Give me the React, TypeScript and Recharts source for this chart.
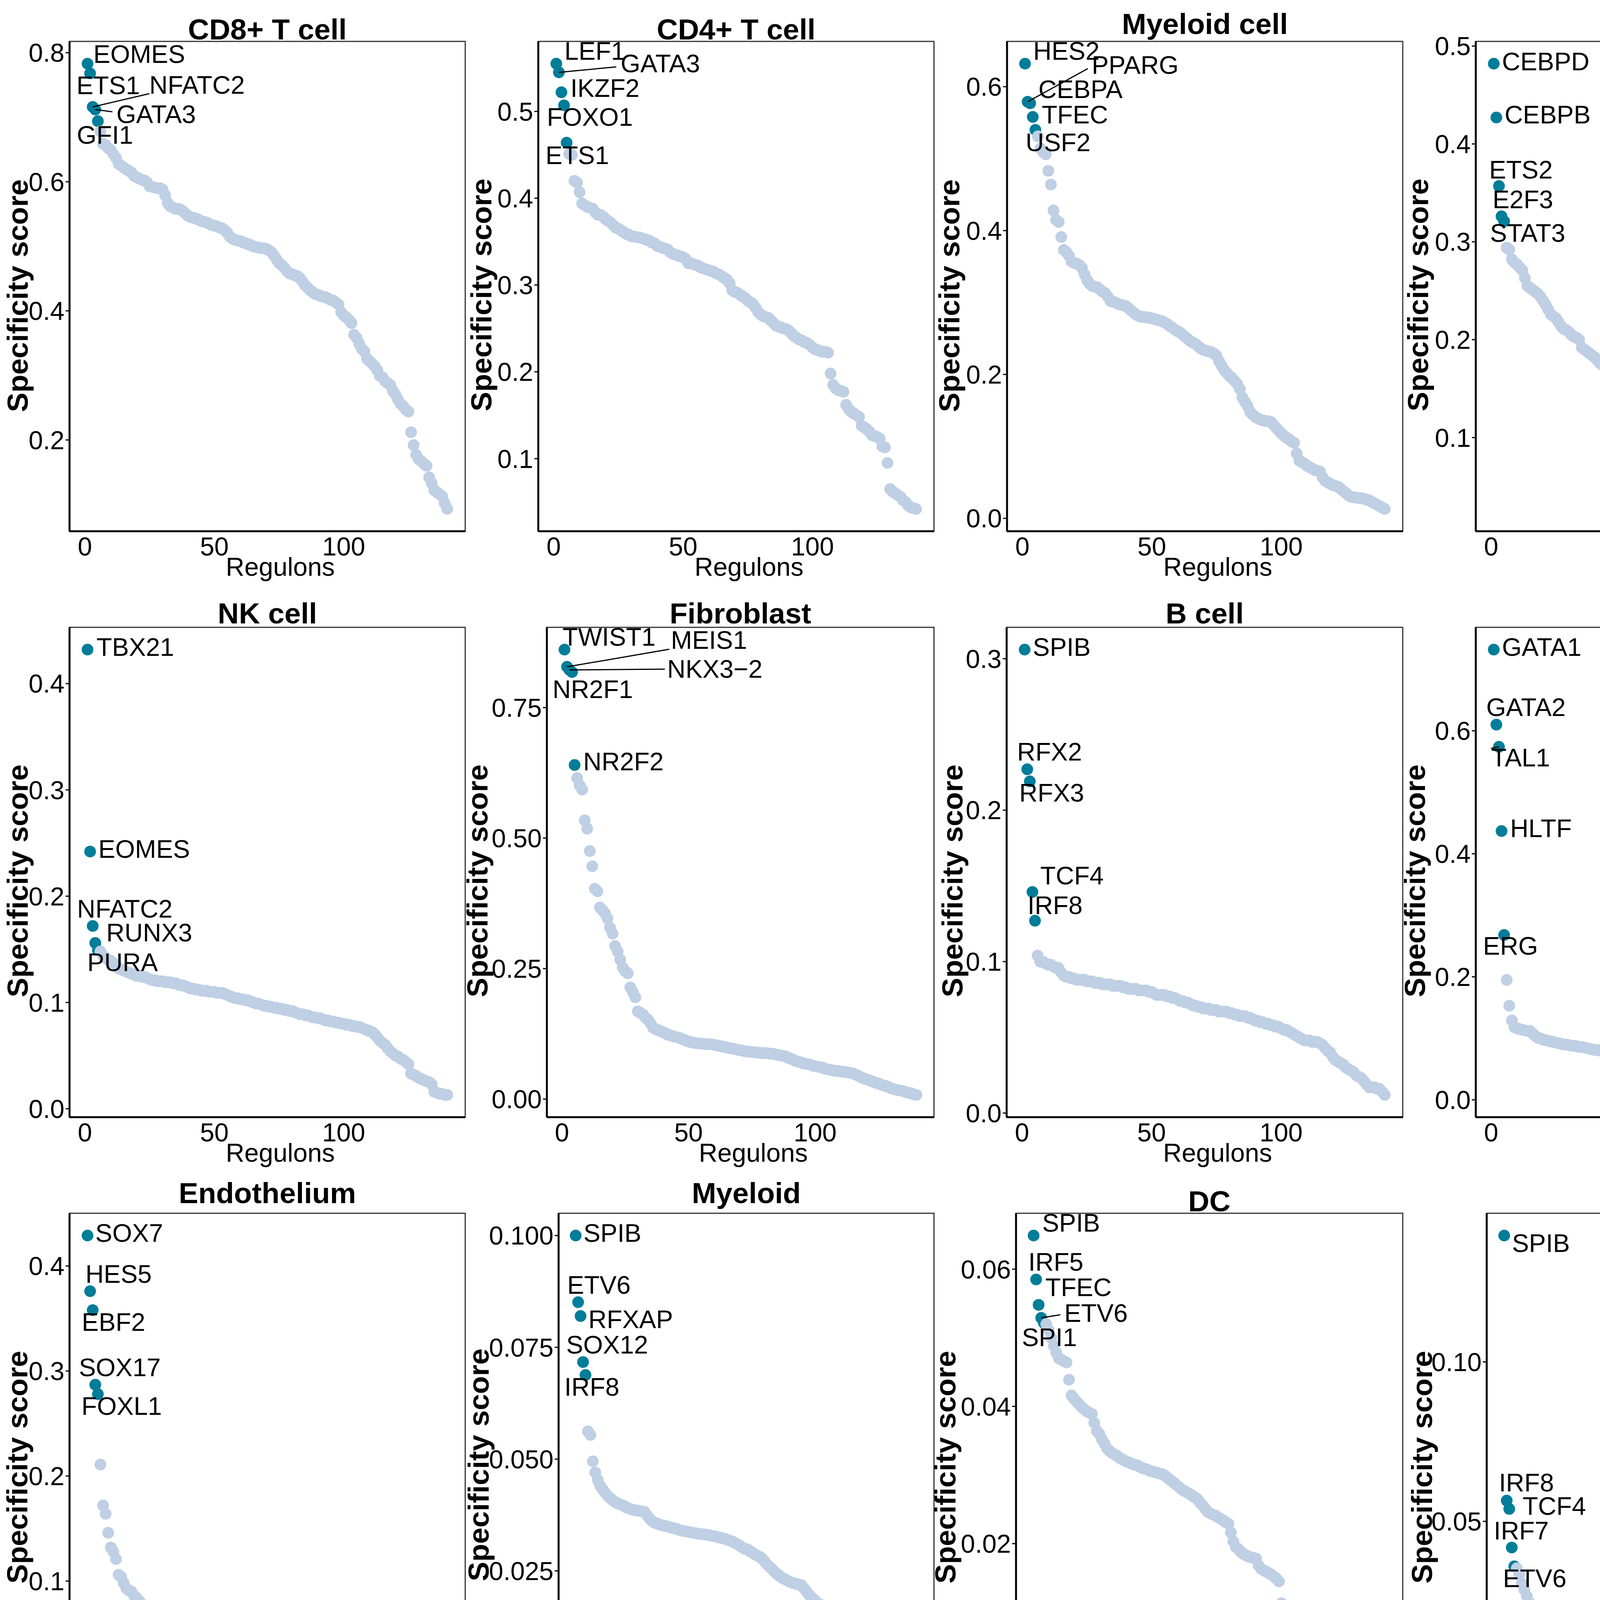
import { ReferenceArea, Scatter, ScatterChart, XAxis, YAxis } from 'recharts'

const TEAL = '#007d99'
const MIST = '#bfcfe4'
const FONT = '"Liberation Sans", Arial, Helvetica, sans-serif'

// specificity scores, regulons ranked 1..140 in each cell type
const cd8Scores = [
	0.783, 0.768, 0.716, 0.712, 0.694, 0.678, 0.659, 0.657, 0.652, 0.649,
	0.643, 0.637, 0.628, 0.625, 0.622, 0.619, 0.617, 0.614, 0.609, 0.607,
	0.605, 0.603, 0.602, 0.599, 0.593, 0.592, 0.591, 0.59, 0.59, 0.588,
	0.579, 0.567, 0.562, 0.56, 0.558, 0.558, 0.557, 0.554, 0.55, 0.547,
	0.545, 0.544, 0.543, 0.541, 0.539, 0.538, 0.537, 0.535, 0.533, 0.532,
	0.531, 0.529, 0.528, 0.525, 0.521, 0.515, 0.512, 0.51, 0.509, 0.508,
	0.506, 0.505, 0.503, 0.502, 0.5, 0.499, 0.498, 0.497, 0.497, 0.496,
	0.494, 0.491, 0.486, 0.48, 0.474, 0.471, 0.467, 0.462, 0.458, 0.457,
	0.455, 0.454, 0.451, 0.446, 0.44, 0.436, 0.432, 0.429, 0.426, 0.425,
	0.423, 0.422, 0.421, 0.419, 0.417, 0.416, 0.413, 0.41, 0.398, 0.393,
	0.39, 0.386, 0.381, 0.363, 0.358, 0.349, 0.341, 0.337, 0.326, 0.322,
	0.318, 0.314, 0.308, 0.299, 0.297, 0.291, 0.288, 0.285, 0.276, 0.27,
	0.262, 0.256, 0.252, 0.247, 0.244, 0.212, 0.192, 0.177, 0.17, 0.167,
	0.163, 0.16, 0.142, 0.133, 0.122, 0.119, 0.116, 0.113, 0.102, 0.093,
]
const cd4Scores = [
	0.555, 0.545, 0.522, 0.507, 0.464, 0.451, 0.45, 0.42, 0.418, 0.407,
	0.394, 0.392, 0.39, 0.389, 0.388, 0.384, 0.381, 0.381, 0.379, 0.376,
	0.374, 0.372, 0.369, 0.366, 0.365, 0.363, 0.361, 0.359, 0.358, 0.356,
	0.356, 0.355, 0.355, 0.354, 0.353, 0.352, 0.351, 0.349, 0.348, 0.345,
	0.344, 0.343, 0.342, 0.341, 0.338, 0.336, 0.335, 0.334, 0.333, 0.332,
	0.33, 0.325, 0.325, 0.324, 0.323, 0.322, 0.32, 0.319, 0.318, 0.317,
	0.316, 0.315, 0.313, 0.312, 0.31, 0.308, 0.306, 0.302, 0.294, 0.292,
	0.291, 0.289, 0.287, 0.285, 0.282, 0.28, 0.278, 0.274, 0.269, 0.266,
	0.264, 0.263, 0.262, 0.259, 0.256, 0.253, 0.252, 0.251, 0.25, 0.249,
	0.247, 0.244, 0.241, 0.239, 0.237, 0.236, 0.234, 0.233, 0.231, 0.228,
	0.226, 0.225, 0.224, 0.223, 0.223, 0.222, 0.198, 0.185, 0.181, 0.179,
	0.178, 0.177, 0.162, 0.157, 0.154, 0.152, 0.15, 0.148, 0.138, 0.136,
	0.134, 0.131, 0.127, 0.126, 0.125, 0.123, 0.114, 0.113, 0.095, 0.065,
	0.062, 0.06, 0.058, 0.056, 0.052, 0.05, 0.046, 0.044, 0.043, 0.042,
]
const myeloidCellScores = [
	0.632, 0.579, 0.577, 0.558, 0.54, 0.531, 0.514, 0.509, 0.506, 0.483,
	0.464, 0.428, 0.415, 0.412, 0.391, 0.373, 0.37, 0.365, 0.357, 0.355,
	0.354, 0.352, 0.348, 0.339, 0.331, 0.326, 0.323, 0.322, 0.321, 0.318,
	0.315, 0.313, 0.308, 0.302, 0.301, 0.3, 0.298, 0.297, 0.296, 0.295,
	0.292, 0.289, 0.286, 0.283, 0.281, 0.28, 0.28, 0.279, 0.279, 0.278,
	0.277, 0.276, 0.275, 0.274, 0.272, 0.27, 0.267, 0.265, 0.262, 0.26,
	0.258, 0.255, 0.252, 0.249, 0.246, 0.244, 0.242, 0.239, 0.236, 0.234,
	0.233, 0.232, 0.231, 0.229, 0.226, 0.218, 0.212, 0.206, 0.202, 0.198,
	0.195, 0.191, 0.187, 0.18, 0.168, 0.162, 0.156, 0.148, 0.144, 0.141,
	0.139, 0.137, 0.136, 0.135, 0.135, 0.134, 0.13, 0.126, 0.122, 0.118,
	0.115, 0.112, 0.11, 0.107, 0.105, 0.09, 0.08, 0.078, 0.076, 0.073,
	0.071, 0.069, 0.067, 0.066, 0.065, 0.057, 0.052, 0.05, 0.048, 0.046,
	0.045, 0.044, 0.041, 0.038, 0.035, 0.032, 0.03, 0.029, 0.029, 0.028,
	0.028, 0.027, 0.026, 0.025, 0.023, 0.021, 0.019, 0.017, 0.015, 0.013,
]
const neutrophilScores = [
	0.482, 0.427, 0.357, 0.326, 0.321, 0.294, 0.292, 0.282, 0.279, 0.277,
	0.274, 0.271, 0.263, 0.255, 0.253, 0.251, 0.249, 0.247, 0.244, 0.24,
	0.236, 0.231, 0.226, 0.224, 0.222, 0.218, 0.214, 0.211, 0.21, 0.208,
	0.205, 0.203, 0.202, 0.2, 0.192, 0.19, 0.188, 0.186, 0.184, 0.182,
	0.179, 0.176, 0.174, 0.173, 0.172, 0.171, 0.17, 0.169, 0.167, 0.166,
	0.165, 0.164, 0.163, 0.162, 0.161, 0.16, 0.159, 0.158, 0.156, 0.155,
	0.154, 0.153, 0.152, 0.152, 0.151, 0.151, 0.15, 0.15, 0.149, 0.149,
	0.148, 0.148, 0.147, 0.147, 0.146, 0.146, 0.146, 0.145, 0.14, 0.139,
	0.137, 0.137, 0.136, 0.136, 0.135, 0.135, 0.134, 0.134, 0.134, 0.133,
	0.132, 0.13, 0.128, 0.126, 0.125, 0.123, 0.122, 0.12, 0.119, 0.117,
	0.116, 0.114, 0.113, 0.112, 0.111, 0.11, 0.109, 0.108, 0.106, 0.104,
	0.102, 0.1, 0.099, 0.097, 0.096, 0.095, 0.094, 0.093, 0.092, 0.091,
	0.09, 0.089, 0.088, 0.087, 0.087, 0.086, 0.083, 0.081, 0.078, 0.076,
	0.074, 0.072, 0.067, 0.062, 0.057, 0.052, 0.048, 0.043, 0.037, 0.027,
]
const plasmaScores = [
	0.6, 0.369, 0.354, 0.329, 0.316, 0.31, 0.303, 0.296, 0.291, 0.289,
	0.285, 0.282, 0.279, 0.277, 0.259, 0.244, 0.227, 0.225, 0.22, 0.213,
	0.205, 0.2, 0.198, 0.196, 0.193, 0.189, 0.185, 0.181, 0.178, 0.176,
	0.174, 0.172, 0.171, 0.17, 0.169, 0.169, 0.168, 0.167, 0.167, 0.166,
	0.16, 0.159, 0.157, 0.155, 0.154, 0.153, 0.152, 0.15, 0.149, 0.148,
	0.147, 0.146, 0.145, 0.143, 0.142, 0.14, 0.138, 0.137, 0.135, 0.134,
	0.133, 0.133, 0.132, 0.131, 0.13, 0.128, 0.126, 0.125, 0.123, 0.122,
	0.121, 0.12, 0.119, 0.118, 0.117, 0.116, 0.115, 0.114, 0.113, 0.112,
	0.111, 0.11, 0.109, 0.108, 0.107, 0.106, 0.106, 0.105, 0.104, 0.103,
	0.102, 0.101, 0.1, 0.099, 0.098, 0.098, 0.097, 0.097, 0.096, 0.095,
	0.095, 0.094, 0.094, 0.093, 0.093, 0.092, 0.091, 0.09, 0.089, 0.088,
	0.086, 0.084, 0.081, 0.079, 0.076, 0.073, 0.071, 0.069, 0.066, 0.064,
	0.06, 0.056, 0.052, 0.048, 0.044, 0.042, 0.04, 0.039, 0.038, 0.037,
	0.035, 0.034, 0.033, 0.032, 0.031, 0.029, 0.026, 0.024, 0.022, 0.02,
]
const nkScores = [
	0.432, 0.242, 0.172, 0.156, 0.149, 0.148, 0.144, 0.142, 0.14, 0.139,
	0.137, 0.135, 0.132, 0.131, 0.13, 0.129, 0.128, 0.127, 0.126, 0.125,
	0.125, 0.124, 0.124, 0.123, 0.122, 0.121, 0.121, 0.12, 0.12, 0.12,
	0.119, 0.119, 0.119, 0.118, 0.118, 0.117, 0.116, 0.116, 0.115, 0.114,
	0.113, 0.113, 0.112, 0.112, 0.111, 0.111, 0.111, 0.11, 0.11, 0.11,
	0.109, 0.109, 0.109, 0.108, 0.107, 0.106, 0.105, 0.104, 0.104, 0.103,
	0.103, 0.102, 0.102, 0.101, 0.1, 0.099, 0.099, 0.098, 0.097, 0.097,
	0.096, 0.096, 0.095, 0.095, 0.094, 0.094, 0.093, 0.093, 0.092, 0.092,
	0.091, 0.09, 0.089, 0.089, 0.088, 0.088, 0.087, 0.086, 0.086, 0.085,
	0.085, 0.084, 0.083, 0.083, 0.082, 0.082, 0.081, 0.081, 0.08, 0.08,
	0.079, 0.079, 0.078, 0.078, 0.077, 0.077, 0.076, 0.075, 0.074, 0.073,
	0.072, 0.07, 0.067, 0.064, 0.062, 0.06, 0.057, 0.054, 0.052, 0.05,
	0.049, 0.047, 0.046, 0.044, 0.042, 0.033, 0.032, 0.031, 0.029, 0.028,
	0.027, 0.026, 0.025, 0.023, 0.016, 0.015, 0.014, 0.014, 0.013, 0.013,
]
const fibroScores = [
	0.861, 0.828, 0.822, 0.818, 0.64, 0.615, 0.601, 0.593, 0.534, 0.518,
	0.475, 0.446, 0.403, 0.398, 0.367, 0.362, 0.356, 0.346, 0.328, 0.317,
	0.293, 0.283, 0.267, 0.252, 0.245, 0.241, 0.214, 0.205, 0.195, 0.168,
	0.165, 0.162, 0.156, 0.152, 0.145, 0.137, 0.134, 0.132, 0.13, 0.128,
	0.126, 0.123, 0.122, 0.12, 0.119, 0.118, 0.116, 0.114, 0.112, 0.11,
	0.109, 0.108, 0.107, 0.107, 0.106, 0.106, 0.105, 0.105, 0.105, 0.104,
	0.103, 0.102, 0.101, 0.1, 0.099, 0.098, 0.097, 0.096, 0.095, 0.094,
	0.093, 0.092, 0.091, 0.091, 0.09, 0.09, 0.089, 0.089, 0.088, 0.088,
	0.088, 0.087, 0.087, 0.086, 0.085, 0.084, 0.083, 0.082, 0.08, 0.078,
	0.076, 0.074, 0.072, 0.071, 0.069, 0.068, 0.067, 0.066, 0.064, 0.063,
	0.062, 0.061, 0.06, 0.058, 0.057, 0.056, 0.055, 0.054, 0.054, 0.053,
	0.052, 0.052, 0.051, 0.05, 0.049, 0.047, 0.045, 0.042, 0.04, 0.038,
	0.037, 0.035, 0.033, 0.031, 0.03, 0.028, 0.026, 0.025, 0.023, 0.021,
	0.019, 0.018, 0.017, 0.016, 0.015, 0.013, 0.012, 0.011, 0.009, 0.008,
]
const bScores = [
	0.306, 0.227, 0.219, 0.146, 0.127, 0.104, 0.1, 0.1, 0.099, 0.098,
	0.098, 0.097, 0.096, 0.096, 0.093, 0.091, 0.09, 0.09, 0.089, 0.089,
	0.088, 0.088, 0.088, 0.088, 0.087, 0.087, 0.087, 0.086, 0.086, 0.086,
	0.085, 0.085, 0.085, 0.085, 0.084, 0.084, 0.084, 0.084, 0.083, 0.083,
	0.082, 0.082, 0.082, 0.082, 0.081, 0.081, 0.081, 0.081, 0.08, 0.08,
	0.079, 0.078, 0.078, 0.078, 0.078, 0.077, 0.077, 0.076, 0.076, 0.075,
	0.074, 0.074, 0.073, 0.073, 0.072, 0.071, 0.071, 0.07, 0.07, 0.069,
	0.069, 0.069, 0.068, 0.068, 0.068, 0.067, 0.067, 0.067, 0.067, 0.066,
	0.066, 0.065, 0.065, 0.064, 0.064, 0.064, 0.063, 0.063, 0.062, 0.061,
	0.061, 0.06, 0.06, 0.059, 0.059, 0.058, 0.058, 0.057, 0.057, 0.056,
	0.055, 0.055, 0.054, 0.053, 0.052, 0.051, 0.05, 0.049, 0.048, 0.048,
	0.048, 0.047, 0.047, 0.047, 0.046, 0.045, 0.043, 0.041, 0.04, 0.037,
	0.035, 0.034, 0.033, 0.032, 0.03, 0.029, 0.028, 0.027, 0.025, 0.024,
	0.023, 0.021, 0.019, 0.017, 0.017, 0.017, 0.016, 0.016, 0.014, 0.012,
]
const mastScores = [
	0.732, 0.61, 0.574, 0.437, 0.268, 0.195, 0.153, 0.129, 0.118, 0.116,
	0.115, 0.114, 0.113, 0.112, 0.112, 0.108, 0.104, 0.101, 0.1, 0.098,
	0.097, 0.096, 0.095, 0.094, 0.093, 0.092, 0.091, 0.09, 0.09, 0.089,
	0.088, 0.088, 0.087, 0.086, 0.086, 0.085, 0.084, 0.083, 0.082, 0.081,
	0.081, 0.08, 0.08, 0.079, 0.079, 0.078, 0.078, 0.077, 0.077, 0.076,
	0.076, 0.076, 0.075, 0.075, 0.075, 0.075, 0.074, 0.074, 0.074, 0.074,
	0.073, 0.073, 0.072, 0.072, 0.071, 0.071, 0.07, 0.07, 0.069, 0.069,
	0.069, 0.068, 0.068, 0.067, 0.067, 0.066, 0.065, 0.065, 0.064, 0.063,
	0.062, 0.062, 0.061, 0.061, 0.06, 0.059, 0.058, 0.057, 0.056, 0.055,
	0.054, 0.053, 0.052, 0.051, 0.05, 0.049, 0.048, 0.047, 0.046, 0.045,
	0.044, 0.043, 0.042, 0.041, 0.04, 0.039, 0.037, 0.036, 0.036, 0.035,
	0.034, 0.034, 0.033, 0.033, 0.032, 0.032, 0.031, 0.031, 0.03, 0.029,
	0.028, 0.027, 0.026, 0.025, 0.024, 0.023, 0.022, 0.021, 0.02, 0.018,
	0.016, 0.015, 0.014, 0.014, 0.013, 0.012, 0.011, 0.01, 0.009, 0.008,
]
const epiScores = [
	0.677, 0.624, 0.621, 0.58, 0.577, 0.53, 0.525, 0.508, 0.456, 0.446,
	0.418, 0.401, 0.385, 0.375, 0.362, 0.334, 0.309, 0.304, 0.301, 0.249,
	0.239, 0.237, 0.234, 0.232, 0.207, 0.206, 0.194, 0.186, 0.177, 0.165,
	0.157, 0.151, 0.144, 0.14, 0.135, 0.13, 0.125, 0.12, 0.116, 0.112,
	0.108, 0.105, 0.104, 0.103, 0.102, 0.101, 0.1, 0.099, 0.098, 0.097,
	0.096, 0.095, 0.095, 0.094, 0.094, 0.093, 0.093, 0.092, 0.091, 0.091,
	0.09, 0.089, 0.088, 0.087, 0.086, 0.085, 0.084, 0.083, 0.082, 0.081,
	0.08, 0.079, 0.078, 0.077, 0.075, 0.073, 0.072, 0.07, 0.07, 0.069,
	0.069, 0.069, 0.068, 0.068, 0.068, 0.066, 0.065, 0.064, 0.063, 0.062,
	0.061, 0.06, 0.059, 0.058, 0.057, 0.056, 0.055, 0.054, 0.053, 0.052,
	0.051, 0.05, 0.049, 0.048, 0.046, 0.045, 0.044, 0.044, 0.043, 0.043,
	0.042, 0.042, 0.041, 0.04, 0.039, 0.038, 0.037, 0.036, 0.035, 0.034,
	0.024, 0.023, 0.022, 0.022, 0.021, 0.021, 0.02, 0.02, 0.019, 0.019,
	0.018, 0.017, 0.016, 0.015, 0.014, 0.013, 0.012, 0.011, 0.01, 0.008,
]
const endoScores = [
	0.429, 0.376, 0.358, 0.287, 0.278, 0.211, 0.172, 0.164, 0.146, 0.132,
	0.128, 0.121, 0.106, 0.104, 0.098, 0.093, 0.091, 0.09, 0.086, 0.084,
	0.081, 0.078, 0.074, 0.071, 0.067, 0.064, 0.062, 0.06, 0.058, 0.056,
	0.055, 0.054, 0.053, 0.052, 0.051, 0.049, 0.048, 0.046, 0.04, 0.037,
	0.036, 0.036, 0.035, 0.035, 0.034, 0.034, 0.034, 0.033, 0.033, 0.033,
	0.032, 0.032, 0.032, 0.032, 0.031, 0.031, 0.031, 0.031, 0.03, 0.03,
	0.03, 0.03, 0.029, 0.029, 0.029, 0.029, 0.029, 0.028, 0.028, 0.028,
	0.028, 0.028, 0.027, 0.027, 0.027, 0.027, 0.026, 0.026, 0.026, 0.026,
	0.025, 0.025, 0.025, 0.025, 0.024, 0.024, 0.024, 0.024, 0.023, 0.023,
	0.023, 0.023, 0.022, 0.022, 0.022, 0.022, 0.021, 0.021, 0.021, 0.021,
	0.021, 0.02, 0.02, 0.02, 0.02, 0.02, 0.02, 0.019, 0.019, 0.019,
	0.019, 0.019, 0.018, 0.018, 0.018, 0.017, 0.017, 0.016, 0.016, 0.016,
	0.015, 0.015, 0.011, 0.01, 0.01, 0.01, 0.009, 0.009, 0.009, 0.008,
	0.008, 0.008, 0.007, 0.007, 0.007, 0.006, 0.006, 0.006, 0.005, 0.005,
]
const myeloidScores = [
	0.1, 0.0851, 0.082, 0.0717, 0.0688, 0.0562, 0.0554, 0.0495, 0.047, 0.0453,
	0.044, 0.0432, 0.0425, 0.0418, 0.0413, 0.0408, 0.0404, 0.0401, 0.0399, 0.0397,
	0.0394, 0.0391, 0.0389, 0.0387, 0.0386, 0.0385, 0.0384, 0.0383, 0.0382, 0.0375,
	0.0368, 0.0362, 0.0358, 0.0356, 0.0354, 0.0352, 0.0351, 0.035, 0.0348, 0.0347,
	0.0345, 0.0344, 0.0342, 0.034, 0.0339, 0.0338, 0.0337, 0.0336, 0.0335, 0.0334,
	0.0333, 0.0332, 0.0332, 0.0331, 0.033, 0.0329, 0.0328, 0.0327, 0.0325, 0.0324,
	0.0323, 0.0321, 0.0319, 0.0317, 0.0315, 0.0312, 0.0309, 0.0306, 0.0302, 0.0299,
	0.0298, 0.0294, 0.0291, 0.0287, 0.0284, 0.0281, 0.0277, 0.0271, 0.0264, 0.0259,
	0.0254, 0.0248, 0.0243, 0.0239, 0.0235, 0.0232, 0.0229, 0.0226, 0.0224, 0.0222,
	0.0221, 0.0219, 0.0218, 0.0211, 0.0204, 0.0197, 0.0191, 0.0186, 0.0181, 0.0176,
	0.0174, 0.0171, 0.0169, 0.0166, 0.0164, 0.016, 0.0156, 0.0152, 0.0145, 0.0139,
	0.0132, 0.0126, 0.0122, 0.0119, 0.0115, 0.0112, 0.0109, 0.0106, 0.0102, 0.0099,
	0.0096, 0.0092, 0.0088, 0.0084, 0.008, 0.0076, 0.0073, 0.007, 0.0067, 0.0063,
	0.0059, 0.0054, 0.005, 0.0046, 0.0042, 0.0038, 0.0034, 0.0026, 0.0017, 0.0004,
]
const dcScores = [
	0.0649, 0.0585, 0.0548, 0.0529, 0.0522, 0.052, 0.0511, 0.05, 0.0488, 0.0478,
	0.047, 0.0468, 0.0466, 0.0464, 0.0439, 0.0416, 0.0411, 0.0407, 0.0403, 0.0399,
	0.0396, 0.0393, 0.0391, 0.0389, 0.0376, 0.0364, 0.036, 0.0352, 0.0346, 0.0339,
	0.0335, 0.0332, 0.033, 0.0328, 0.0325, 0.0323, 0.0321, 0.0319, 0.0318, 0.0316,
	0.0315, 0.0314, 0.0312, 0.031, 0.0309, 0.0308, 0.0306, 0.0305, 0.0304, 0.0303,
	0.0302, 0.0301, 0.0299, 0.0296, 0.0293, 0.029, 0.0287, 0.0284, 0.0281, 0.0278,
	0.0276, 0.0274, 0.0272, 0.0269, 0.0267, 0.0264, 0.0259, 0.0255, 0.025, 0.0246,
	0.0244, 0.0242, 0.0241, 0.0238, 0.0236, 0.0234, 0.0231, 0.0229, 0.0216, 0.0203,
	0.0195, 0.0192, 0.0188, 0.0185, 0.0183, 0.0181, 0.018, 0.0179, 0.0178, 0.0168,
	0.0163, 0.0161, 0.0159, 0.0157, 0.0155, 0.0152, 0.0149, 0.0145, 0.0113, 0.0104,
	0.01, 0.0096, 0.0093, 0.0091, 0.0084, 0.0077, 0.0075, 0.0073, 0.0071, 0.0068,
	0.0066, 0.0062, 0.0058, 0.0056, 0.0054, 0.0053, 0.0052, 0.005, 0.0048, 0.0046,
	0.0045, 0.0043, 0.0042, 0.004, 0.0039, 0.0037, 0.0036, 0.0035, 0.0033, 0.0031,
	0.0029, 0.0026, 0.0023, 0.002, 0.0017, 0.0012, 0.0006, 0.0003, 0.0001, 0.0,
]
const pdcScores = [
	0.1396, 0.0565, 0.0539, 0.0418, 0.0359, 0.0353, 0.0335, 0.0305, 0.0285, 0.0265,
	0.0245, 0.0229, 0.0224, 0.022, 0.0219, 0.0217, 0.0216, 0.0215, 0.0213, 0.0211,
	0.0209, 0.0207, 0.0205, 0.0204, 0.0202, 0.0201, 0.02, 0.0198, 0.0197, 0.0195,
	0.0193, 0.0192, 0.0191, 0.019, 0.0189, 0.0189, 0.0188, 0.0188, 0.0187, 0.0187,
	0.0186, 0.0186, 0.0185, 0.0185, 0.0184, 0.0184, 0.0183, 0.0182, 0.0181, 0.0181,
	0.018, 0.0179, 0.0179, 0.0178, 0.0178, 0.0177, 0.0177, 0.0176, 0.0176, 0.0175,
	0.0175, 0.0174, 0.0174, 0.0173, 0.0173, 0.0165, 0.016, 0.0156, 0.0153, 0.015,
	0.0148, 0.0145, 0.0143, 0.0141, 0.0139, 0.0137, 0.0135, 0.0133, 0.0131, 0.0129,
	0.0127, 0.0126, 0.0123, 0.0121, 0.0118, 0.0116, 0.0114, 0.0104, 0.0094, 0.0092,
	0.0091, 0.0089, 0.0088, 0.0086, 0.0085, 0.0083, 0.0082, 0.008, 0.0079, 0.0076,
	0.0073, 0.007, 0.0067, 0.0065, 0.0062, 0.0059, 0.0056, 0.0053, 0.0052, 0.0051,
	0.0049, 0.0048, 0.0047, 0.0045, 0.0044, 0.0042, 0.0041, 0.0039, 0.0037, 0.0035,
	0.0033, 0.003, 0.0028, 0.0026, 0.0024, 0.0022, 0.002, 0.0019, 0.0018, 0.0017,
	0.0015, 0.0014, 0.0012, 0.0011, 0.0009, 0.0007, 0.0006, 0.0004, 0.0002, 0.0,
]

// top five regulons per cell type (highlighted + labelled)
const cd8Genes = ['EOMES', 'ETS1', 'NFATC2', 'GATA3', 'GFI1']
const cd4Genes = ['LEF1', 'GATA3', 'IKZF2', 'FOXO1', 'ETS1']
const myeloidCellGenes = ['HES2', 'PPARG', 'CEBPA', 'TFEC', 'USF2']
const neutrophilGenes = ['CEBPD', 'CEBPB', 'ETS2', 'E2F3', 'STAT3']
const plasmaGenes = ['XBP1', 'SRF', 'IRF1', 'FOXO3', 'JUN']
const nkGenes = ['TBX21', 'EOMES', 'NFATC2', 'RUNX3', 'PURA']
const fibroGenes = ['TWIST1', 'MEIS1', 'NKX3−2', 'NR2F1', 'NR2F2']
const bGenes = ['SPIB', 'RFX2', 'RFX3', 'TCF4', 'IRF8']
const mastGenes = ['GATA1', 'GATA2', 'TAL1', 'HLTF', 'ERG']
const epiGenes = ['FOXA2', 'NKX3−1', 'HNF4G', 'NKX2−1', 'HOXD1']
const endoGenes = ['SOX7', 'HES5', 'EBF2', 'SOX17', 'FOXL1']
const myeloidGenes = ['SPIB', 'ETV6', 'RFXAP', 'SOX12', 'IRF8']
const dcGenes = ['SPIB', 'IRF5', 'TFEC', 'ETV6', 'SPI1']
const pdcGenes = ['SPIB', 'IRF8', 'TCF4', 'IRF7', 'ETV6']

// y tick labels
const cd8Ticks = ['0.2', '0.4', '0.6', '0.8']
const cd4Ticks = ['0.1', '0.2', '0.3', '0.4', '0.5']
const myeloidCellTicks = ['0.0', '0.2', '0.4', '0.6']
const neutrophilTicks = ['0.1', '0.2', '0.3', '0.4', '0.5']
const plasmaTicks = ['0.0', '0.2', '0.4', '0.6']
const nkTicks = ['0.0', '0.1', '0.2', '0.3', '0.4']
const fibroTicks = ['0.00', '0.25', '0.50', '0.75']
const bTicks = ['0.0', '0.1', '0.2', '0.3']
const mastTicks = ['0.0', '0.2', '0.4', '0.6']
const epiTicks = ['0.0', '0.2', '0.4', '0.6']
const endoTicks = ['0.0', '0.1', '0.2', '0.3', '0.4']
const myeloidTicks = ['0.000', '0.025', '0.050', '0.075', '0.100']
const dcTicks = ['0.00', '0.02', '0.04', '0.06']
const pdcTicks = ['0.00', '0.05', '0.10']
const regulonTicks = [0, 50, 100]

// label placement, px from the point: [textDx, textDy, segmentDx?, segmentDy?]
const cd8Place = [[15, -2], [-35, 53], [145, -34, 145, -34], [54, 35, 44, 6], [-54, 58]]
const cd4Place = [[21, -10], [158, 0, 147, -14], [23, 12], [-44, 52], [-54, 55]]
const myeloidCellPlace = [[21, -10], [164, -72, 154, -85], [21, -13], [23, 17], [-25, 55]]
const neutrophilPlace = [[21, 17], [21, 15], [-25, -19], [-23, -21], [-36, 53]]
const plasmaPlace = [[22, 7], [-15, -19], [24, 15], [74, 29, 62, 12], [-52, 55]]
const nkPlace = [[23, 16], [21, 16], [-40, -21], [28, -4], [-27, 53]]
const fibroPlace = [[-5, -10], [266, -46, 262, -45], [250, 20, 244, -2], [-50, 67], [22, 14]]
const bPlace = [[21, 16], [-26, -22], [-27, 52], [20, -19], [-19, -17]]
const mastPlace = [[21, 16], [-26, -22], [-20, 50, -20, 4], [22, 15], [-54, 50]]
const epiPlace = [[22, -10], [-37, -19], [20, 50], [282, 21, 277, 2], [-48, 70]]
const endoPlace = [[20, 16], [-12, -22], [-28, 53], [-42, -22], [-42, 53]]
const myeloidPlace = [[20, 16], [-28, -22], [20, 31], [-43, -22], [-54, 53]]
const dcPlace = [[22, -10], [-20, -22], [17, -22], [59, 10, 49, -8], [-56, 60]]
const pdcPlace = [[20, 42], [-20, -24], [34, 15], [-46, -21], [-29, 53]]

const CELL_W = 1200
const CELL_H = 1500
const PAD = 60 // extra room on the left of every svg so rotated titles are not clipped
const PLOT_TOP = 106
const PLOT_BOTTOM = 1360
const PLOT_RIGHT = 1191

const panels = [
	{ title: 'CD8+ T cell', scores: cd8Scores, genes: cd8Genes, ticks: cd8Ticks, place: cd8Place, col: 0, row: 0, left: 178, titleY: 101, yTitleX: 71, yTitleY: 757 },
	{ title: 'CD4+ T cell', scores: cd4Scores, genes: cd4Genes, ticks: cd4Ticks, place: cd4Place, col: 1, row: 0, left: 178, titleY: 101, yTitleX: 58, yTitleY: 755 },
	{ title: 'Myeloid cell', scores: myeloidCellScores, genes: myeloidCellGenes, ticks: myeloidCellTicks, place: myeloidCellPlace, col: 2, row: 0, left: 178, titleY: 87, yTitleX: 56, yTitleY: 757 },
	{ title: 'Neutrophil', scores: neutrophilScores, genes: neutrophilGenes, ticks: neutrophilTicks, place: neutrophilPlace, col: 3, row: 0, left: 178, titleY: 87, yTitleX: 56, yTitleY: 755 },
	{ title: 'Plasma cell', scores: plasmaScores, genes: plasmaGenes, ticks: plasmaTicks, place: plasmaPlace, col: 4, row: 0, left: 178, titleY: 101, yTitleX: 56, yTitleY: 788 },
	{ title: 'NK cell', scores: nkScores, genes: nkGenes, ticks: nkTicks, place: nkPlace, col: 0, row: 1, left: 178, titleY: 96, yTitleX: 71, yTitleY: 755 },
	{ title: 'Fibroblast', scores: fibroScores, genes: fibroGenes, ticks: fibroTicks, place: fibroPlace, col: 1, row: 1, left: 200, titleY: 96, yTitleX: 48, yTitleY: 755 },
	{ title: 'B cell', scores: bScores, genes: bGenes, ticks: bTicks, place: bPlace, col: 2, row: 1, left: 177, titleY: 96, yTitleX: 64, yTitleY: 755 },
	{ title: 'Mast cell', scores: mastScores, genes: mastGenes, ticks: mastTicks, place: mastPlace, col: 3, row: 1, left: 178, titleY: 96, yTitleX: 48, yTitleY: 755 },
	{ title: 'Epithelium', scores: epiScores, genes: epiGenes, ticks: epiTicks, place: epiPlace, col: 4, row: 1, left: 178, titleY: 87, yTitleX: 56, yTitleY: 755 },
	{ title: 'Endothelium', scores: endoScores, genes: endoGenes, ticks: endoTicks, place: endoPlace, col: 0, row: 2, left: 178, titleY: 80, yTitleX: 70, yTitleY: 756 },
	{ title: 'Myeloid', scores: myeloidScores, genes: myeloidGenes, ticks: myeloidTicks, place: myeloidPlace, col: 1, row: 2, left: 230, titleY: 80, yTitleX: 51, yTitleY: 750 },
	{ title: 'DC', scores: dcScores, genes: dcGenes, ticks: dcTicks, place: dcPlace, col: 2, row: 2, left: 201, titleY: 101, yTitleX: 46, yTitleY: 756 },
	{ title: 'pDC', scores: pdcScores, genes: pdcGenes, ticks: pdcTicks, place: pdcPlace, col: 3, row: 2, left: 206, titleY: 82, yTitleX: 66, yTitleY: 756 },
]

type PanelDef = (typeof panels)[number]

function Dot(props: any) {
	const { cx, cy, payload } = props
	return <circle cx={cx} cy={cy} r={15} fill={payload.top ? TEAL : MIST} />
}

function GeneLabel(props: any) {
	const { cx, cy, payload } = props
	const [dx, dy, sx, sy] = payload.place
	return (
		<g>
			{sx !== undefined && <line x1={cx} y1={cy} x2={cx + sx} y2={cy + sy} stroke="#000" strokeWidth={3} />}
			<text x={cx + dx} y={cy + dy} fontSize={65} fontFamily={FONT} fill="#000">
				{payload.gene}
			</text>
		</g>
	)
}

function Panel({ p }: { p: PanelDef }) {
	const n = p.scores.length
	const points = p.scores.map((y, i) => ({ x: i + 1, y, top: i < p.genes.length }))
	const labelled = p.genes.map((gene, i) => ({ x: i + 1, y: p.scores[i], gene, place: p.place[i] }))

	// ggplot-style 5% expansion on both axes
	const yMin = Math.min(...p.scores)
	const yMax = Math.max(...p.scores)
	const yPad = (yMax - yMin) * 0.05
	const yDomain = [yMin - yPad, yMax + yPad]
	const xPad = (n - 1) * 0.05
	const xDomain = [1 - xPad, n + xPad]
	const tickVals = p.ticks.map(Number)

	const w = CELL_W + PAD
	const plotMid = PAD + (p.left + PLOT_RIGHT) / 2
	const ytx = PAD + p.yTitleX

	const yTitles = () => (
		<g fontFamily={FONT} fill="#000">
			<text x={plotMid} y={p.titleY} textAnchor="middle" fontSize={75} fontWeight="bold">
				{p.title}
			</text>
			<text
				x={ytx}
				y={p.yTitleY}
				transform={`rotate(-90, ${ytx}, ${p.yTitleY})`}
				textAnchor="middle"
				fontSize={75}
				fontWeight="bold"
			>
				Specificity score
			</text>
		</g>
	)
	const xTitle = () => (
		<text x={plotMid + 33} y={1474} textAnchor="middle" fontSize={66} fontFamily={FONT} fill="#000">
			Regulons
		</text>
	)

	return (
		<div style={{ position: 'absolute', left: p.col * CELL_W - PAD, top: p.row * CELL_H, width: w, height: CELL_H }}>
			<ScatterChart width={w} height={CELL_H} margin={{ top: PLOT_TOP, right: CELL_W - PLOT_RIGHT, bottom: 0, left: 0 }}>
				<ReferenceArea
					x1={xDomain[0]}
					x2={xDomain[1]}
					y1={yDomain[0]}
					y2={yDomain[1]}
					fill="none"
					stroke="#333"
					strokeWidth={3}
				/>
				<XAxis
					type="number"
					dataKey="x"
					domain={xDomain}
					ticks={regulonTicks}
					height={CELL_H - PLOT_BOTTOM}
					tick={{ fontSize: 66, fill: '#000', fontFamily: FONT }}
					tickLine={false}
					tickSize={8}
					tickMargin={7}
					axisLine={{ stroke: '#000', strokeWidth: 5 }}
					label={xTitle}
				/>
				<YAxis
					type="number"
					dataKey="y"
					domain={yDomain}
					ticks={tickVals}
					tickFormatter={(v: number) => p.ticks[tickVals.indexOf(v)] ?? String(v)}
					width={PAD + p.left}
					tick={{ fontSize: 66, fill: '#000', fontFamily: FONT }}
					tickLine={{ stroke: '#000', strokeWidth: 3 }}
					tickSize={10}
					tickMargin={3}
					axisLine={{ stroke: '#000', strokeWidth: 5 }}
					label={yTitles}
				/>
				<Scatter data={points} shape={Dot} isAnimationActive={false} />
				<Scatter data={labelled} shape={GeneLabel} isAnimationActive={false} />
			</ScatterChart>
		</div>
	)
}

export default function App() {
	return (
		<div style={{ position: 'absolute', left: 0, top: 0, width: 6012, height: 4500, background: '#fff', overflow: 'hidden' }}>
			{panels.map((p) => (
				<Panel key={p.title} p={p} />
			))}
		</div>
	)
}
